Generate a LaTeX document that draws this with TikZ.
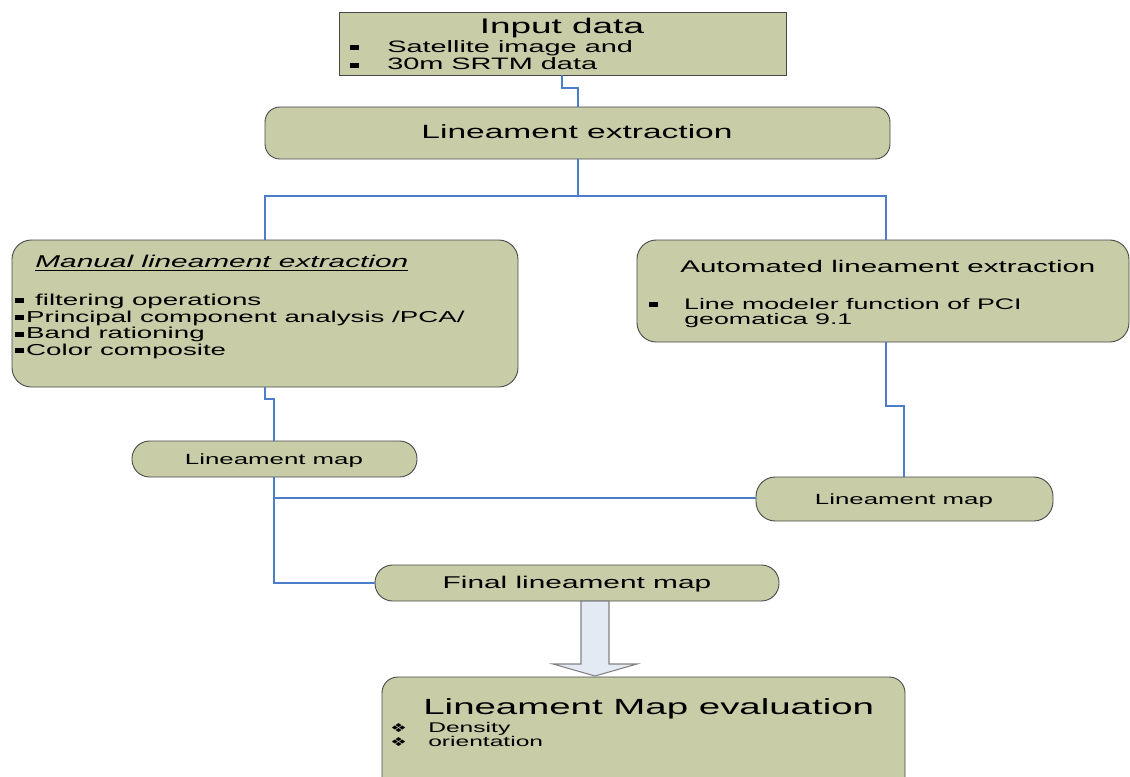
\documentclass[tikz,border=0pt]{standalone}
\usepackage{fontspec}
\setmainfont{Liberation Sans}[FakeStretch=1.75]
\newfontfamily\dingfont{DejaVu Sans}[FakeStretch=1.5]
\usetikzlibrary{fit}
\definecolor{boxfill}{RGB}{200,205,168}
\definecolor{boxline}{RGB}{70,70,70}
\definecolor{linkblue}{RGB}{76,125,202}
\definecolor{arrowfill}{RGB}{228,234,244}
\definecolor{arrowline}{RGB}{130,130,130}
\newcommand\fs[1]{\fontsize{#1}{#1}\selectfont}
% square list bullet and four-diamond bullet
\newcommand\sqbul{\rule[1.3pt]{5pt}{2.8pt}}
\newcommand\bulbox[1]{\makebox[#1][l]{\sqbul}}
\newcommand\diabox[1]{\makebox[#1][l]{\dingfont\fontsize{7}{7}\selectfont ❖}}
\begin{document}
\begin{tikzpicture}[x=0.02cm,y=-0.02cm,
  box/.style={draw=boxline,fill=boxfill,line width=0.5pt,inner sep=0pt},
  conn/.style={draw=linkblue,line width=1.3pt},
  txt/.style={inner sep=0pt,anchor=base west},
  ctxt/.style={inner sep=0pt,anchor=base},
  blockarrow/.style={draw=arrowline,fill=arrowfill,line width=0.6pt,line join=miter}]
\useasboundingbox (0,0) rectangle (1130,777);

% boxes
\node[box,fit={(339,12) (786,75)}] (input) {};
\node[box,rounded corners=8.5pt,fit={(265,107) (890,159)}] (le) {};
\node[box,rounded corners=11pt,fit={(12,240) (518,387)}] (manual) {};
\node[box,rounded corners=11pt,fit={(637,240) (1129,342)}] (auto) {};
\node[box,rounded corners=10pt,fit={(132,441) (417,477)}] (lmL) {};
\node[box,rounded corners=11pt,fit={(756,477) (1053,521)}] (lmR) {};
\node[box,rounded corners=10pt,fit={(375,565) (779,601)}] (final) {};
\node[box,rounded corners=9pt,fit={(382,677) (905,800)}] (eval) {};

% single-line box labels
\node[ctxt,font=\fs{10.9}] (leT) at (577,139) {Lineament extraction};
\node[ctxt,font=\fs{8.4}] (lmLT) at (274,464.5) {Lineament map};
\node[ctxt,font=\fs{8.4}] (lmRT) at (904,504) {Lineament map};
\node[ctxt,font=\fs{9.7}] (finalT) at (577,588.5) {Final lineament map};

% input data text
\node[ctxt,font=\fs{12}] (inT) at (562,34) {Input data};
\node[txt,font=\fs{9.4}] (in1) at (350,52.5) {\bulbox{21pt}Satellite image and};
\node[txt,font=\fs{9.4}] (in2) at (350,70) {\bulbox{21pt}30m SRTM data};

% manual extraction text
\node[txt,font=\fs{9.7}] (manT) at (35,267.5) {\underline{\itshape Manual lineament extraction}};
\node[txt,font=\fs{9}] (man1) at (15,305.5) {\bulbox{11.3pt}filtering operations};
\node[txt,font=\fs{9}] (man2) at (15,322.2) {\bulbox{6.2pt}Principal component analysis /PCA/};
\node[txt,font=\fs{9}] (man3) at (15,338.9) {\bulbox{6.2pt}Band rationing};
\node[txt,font=\fs{9}] (man4) at (15,355.5) {\bulbox{6.2pt}Color composite};

% automated extraction text
\node[txt,font=\fs{9.6}] (autoT) at (680,273) {Automated lineament extraction};
\node[txt,font=\fs{8.7}] (auto1) at (649,309) {\bulbox{19.8pt}Line modeler function of PCI};
\node[txt,font=\fs{8.7}] (auto2) at (684,324.5) {geomatica 9.1};

% evaluation text
\node[txt,font=\fs{12.5}] (evT) at (423,714.5) {Lineament Map evaluation};
\node[txt,font=\fs{8}] (ev1) at (390,732) {\diabox{21.6pt}Density};
\node[txt,font=\fs{8}] (ev2) at (390,746) {\diabox{21.6pt}orientation};

% elbow points of the connectors
\coordinate (a1) at (562,88);  \coordinate (a2) at (578,88);
\coordinate (b0) at (578,196); \coordinate (bl) at (265,196); \coordinate (br) at (886,196);
\coordinate (c1) at (265,399); \coordinate (c2) at (274,399);
\coordinate (d1) at (886,406); \coordinate (d2) at (904,406);
\coordinate (e1) at (274,583); \coordinate (f1) at (274,498);

% connectors
\draw[conn] (a1 |- input.south) -- (a1) -- (a2) -- (a2 |- le.north);
\draw[conn] (b0 |- le.south) -- (b0);
\draw[conn] (bl |- manual.north) -- (bl) -- (br) -- (br |- auto.north);
\draw[conn] (c1 |- manual.south) -- (c1) -- (c2) -- (c2 |- lmL.north);
\draw[conn] (d1 |- auto.south) -- (d1) -- (d2) -- (d2 |- lmR.north);
\draw[conn] (e1 |- lmL.south) -- (e1) -- (e1 -| final.west);
\draw[conn] (f1) -- (f1 -| lmR.west);

% block arrow down to the evaluation box
\draw[blockarrow] (581,601) -- (609,601) -- (609,664) -- (637,664) -- (595,676)
  -- (553,664) -- (581,664) -- cycle;
\end{tikzpicture}
\end{document}
